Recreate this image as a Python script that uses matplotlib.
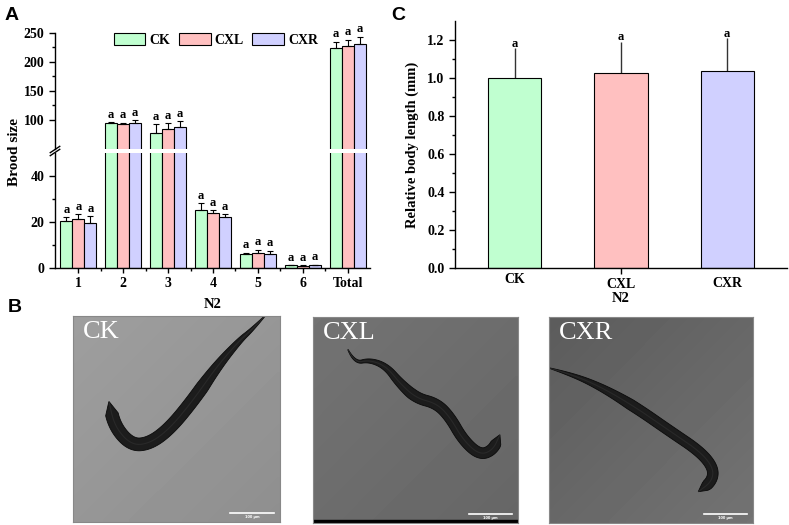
import numpy as np
import matplotlib
matplotlib.use("Agg")
import matplotlib.pyplot as plt
from matplotlib.patches import Patch
from matplotlib.ticker import FixedLocator

# ---------------- data ----------------
groups = ['1', '2', '3', '4', '5', '6', 'Total']
series = ['CK', 'CXL', 'CXR']
ck_mean = [20.3, 95.0, 77.5, 25.3, 6.3, 1.1, 223.5]
ck_err = [1.7, 0.8, 15.0, 3.0, 0.4, 0.2, 11.5]
cxl_mean = [21.2, 92.5, 85.0, 24.0, 6.6, 0.8, 228.0]
cxl_err = [2.3, 3.0, 9.3, 1.2, 1.3, 0.5, 10.5]
cxr_mean = [19.5, 95.0, 88.0, 22.3, 6.2, 1.1, 231.5]
cxr_err = [3.0, 4.7, 10.4, 1.0, 1.3, 0.3, 12.0]

c_labels = ['CK', 'CXL', 'CXR']
c_mean = [1.0, 1.026, 1.035]
c_err = [0.156, 0.165, 0.174]

colors = ['#c0ffd0', '#ffc0c0', '#d0d0ff']

# worm centre lines (image fraction, y from top), tail end first
worm_ck_x = [0.927, 0.863, 0.806, 0.694, 0.581, 0.468, 0.371, 0.282, 0.202, 0.174]
worm_ck_y = [0.0, 0.068, 0.117, 0.246, 0.408, 0.546, 0.619, 0.627, 0.538, 0.417]
worm_cxl_x = [0.171, 0.203, 0.276, 0.358, 0.423, 0.504, 0.602, 0.667, 0.732, 0.813, 0.878, 0.911]
worm_cxl_y = [0.159, 0.224, 0.208, 0.240, 0.321, 0.394, 0.419, 0.484, 0.597, 0.670, 0.646, 0.573]
worm_cxr_x = [0.002, 0.119, 0.267, 0.430, 0.594, 0.741, 0.807, 0.798, 0.733]
worm_cxr_y = [0.248, 0.281, 0.346, 0.442, 0.555, 0.653, 0.734, 0.799, 0.847]

plt.rcParams['font.family'] = ['Liberation Serif', 'DejaVu Serif']
plt.rcParams['font.weight'] = 'bold'
plt.rcParams['axes.linewidth'] = 1.0

fig = plt.figure(figsize=(7.89, 5.25), dpi=100)
W, H = 789.0, 525.0


def worm_shape(xs, ys, width):
    # smooth centre line through midpoints (quadratic bezier), then a tapered outline
    p = np.column_stack([xs, ys])
    t = np.linspace(0, 1, 20)[:, None]
    line = [p[0]]
    start = p[0]
    for i in range(1, len(p) - 1):
        end = (p[i] + p[i + 1]) / 2
        seg = (1 - t) ** 2 * start + 2 * (1 - t) * t * p[i] + t ** 2 * end
        line.extend(seg[1:])
        start = end
    line.append(p[-1])
    line = np.array(line)
    d = np.gradient(line, axis=0)
    d /= np.hypot(d[:, 0], d[:, 1])[:, None] + 1e-12
    nrm = np.column_stack([-d[:, 1], d[:, 0]])
    s = np.concatenate([[0], np.cumsum(np.hypot(*np.diff(line, axis=0).T))])
    s /= s[-1]
    taper = np.minimum(1, s / 0.4) ** 0.9 * np.minimum(1, (1 - s) / 0.05) ** 0.5
    w = width * (0.04 + 0.96 * taper) / 2
    outline = np.vstack([line + nrm * w[:, None], (line - nrm * w[:, None])[::-1]])
    return line, outline


# ---------------- panel A (broken axis) ----------------
left_a = 55 / W
width_a = 315 / W
ax_lo = fig.add_axes([left_a, 1 - 268 / H, width_a, 115 / H])
ax_hi = fig.add_axes([left_a, 1 - 149 / H, width_a, 116 / H])

x = np.arange(len(groups))
bw = 0.267
means = [ck_mean, cxl_mean, cxr_mean]
errs = [ck_err, cxl_err, cxr_err]
for ax in (ax_lo, ax_hi):
    for k in range(3):
        xs = x + (k - 1) * bw
        ax.bar(xs, means[k], bw, color=colors[k], edgecolor='black', linewidth=0.8, zorder=2)
        ax.errorbar(xs, means[k], yerr=[np.zeros(len(groups)), errs[k]], fmt='none',
                    ecolor='black', elinewidth=0.8, capsize=2.2, capthick=0.8, zorder=3)
    ax.set_xlim(-0.52, 6.5)
    for s in ('top', 'right'):
        ax.spines[s].set_visible(False)
    ax.tick_params(axis='y', direction='out', length=4, width=1, labelsize=10)
    ax.tick_params(axis='y', which='minor', direction='out', length=2, width=1)

ax_lo.set_ylim(0, 50)
ax_lo.yaxis.set_major_locator(FixedLocator([0, 20, 40]))
ax_lo.yaxis.set_minor_locator(FixedLocator([10, 30]))
ax_lo.set_xticks(x)
ax_lo.set_xticklabels(groups)
ax_lo.xaxis.set_minor_locator(FixedLocator(x[:-1] + 0.5))
ax_lo.tick_params(axis='x', direction='out', length=3.5, width=1, labelsize=10, pad=3)
ax_lo.tick_params(axis='x', which='minor', direction='out', length=2, width=1)
ax_lo.set_xlabel('N2', fontsize=10.5, fontweight='bold', labelpad=6)

ax_hi.set_ylim(50, 250)
ax_hi.yaxis.set_major_locator(FixedLocator([100, 150, 200, 250]))
ax_hi.yaxis.set_minor_locator(FixedLocator([125, 175, 225]))
ax_hi.spines['bottom'].set_visible(False)
ax_hi.set_xticks([])

# break marks on the left spine
kw = dict(transform=fig.transFigure, color='black', lw=1, clip_on=False)
for yb in (1 - 149.5 / H, 1 - 152.5 / H):
    fig.add_artist(plt.Line2D([left_a - 0.006, left_a + 0.006], [yb - 0.006, yb + 0.006], **kw))

# significance letters
for k in range(3):
    for i in range(len(groups)):
        top = means[k][i] + errs[k][i]
        ax = ax_hi if top > 50 else ax_lo
        ax.annotate('a', (x[i] + (k - 1) * bw, top), xytext=(0, 1), textcoords='offset points',
                    ha='center', va='bottom', fontsize=9, fontweight='bold')

fig.text(14 / W, 1 - 152 / H, 'Brood size', rotation=90, ha='center', va='center',
         fontsize=11, fontweight='bold')

handles = [Patch(facecolor=colors[k], edgecolor='black', linewidth=0.8, label=series[k]) for k in range(3)]
fig.legend(handles=handles, loc='center', bbox_to_anchor=(216 / W, 1 - 40 / H), ncol=3,
           frameon=False, handlelength=2.3, handleheight=0.9, handletextpad=0.3,
           columnspacing=0.6, prop={'family': 'Liberation Serif', 'weight': 'bold', 'size': 10})

# ---------------- panel C ----------------
ax_c = fig.add_axes([455 / W, 1 - 268 / H, 332 / W, 247 / H])
xc = np.arange(3)
ax_c.bar(xc, c_mean, 0.5, color=colors, edgecolor='black', linewidth=0.8, zorder=2)
ax_c.errorbar(xc, c_mean, yerr=[np.zeros(3), c_err], fmt='none', ecolor='#333333',
              elinewidth=1.0, capsize=0, zorder=1)
for i in range(3):
    ax_c.annotate('a', (xc[i], c_mean[i] + c_err[i]), xytext=(0, -1), textcoords='offset points',
                  ha='center', va='bottom', fontsize=9, fontweight='bold')
ax_c.set_xlim(-0.566, 2.566)
ax_c.set_ylim(0, 1.3)
ax_c.yaxis.set_major_locator(FixedLocator([0.0, 0.2, 0.4, 0.6, 0.8, 1.0, 1.2]))
ax_c.yaxis.set_minor_locator(FixedLocator([0.1, 0.3, 0.5, 0.7, 0.9, 1.1]))
ax_c.set_yticklabels(['%.1f' % v for v in [0.0, 0.2, 0.4, 0.6, 0.8, 1.0, 1.2]])
ax_c.tick_params(axis='y', direction='out', length=4, width=1, labelsize=10)
ax_c.tick_params(axis='y', which='minor', direction='out', length=2, width=1)
for s in ('top', 'right'):
    ax_c.spines[s].set_visible(False)
ax_c.set_xticks([1])
ax_c.set_xticklabels([c_labels[1]])
ax_c.tick_params(axis='x', direction='out', length=4, width=1, labelsize=10, pad=3)
ax_c.text(0, -0.045, c_labels[0], ha='center', va='center', fontsize=10, fontweight='bold',
          transform=ax_c.get_xaxis_transform())
ax_c.text(2, -0.062, c_labels[2], ha='center', va='center', fontsize=10, fontweight='bold',
          transform=ax_c.get_xaxis_transform())
ax_c.set_xlabel('N2', fontsize=10.5, fontweight='bold', labelpad=1)
ax_c.set_ylabel('Relative body length (mm)', fontsize=10.5, fontweight='bold', labelpad=6)

# ---------------- panel B (micrographs) ----------------
img_boxes = [(73, 316, 207, 206), (313, 317, 205, 206), (549, 317, 204, 206)]
bg_levels = [(0.62, 0.56), (0.45, 0.40), (0.36, 0.45)]
worms = [(worm_ck_x, worm_ck_y), (worm_cxl_x, worm_cxl_y), (worm_cxr_x, worm_cxr_y)]
worm_w = [0.062, 0.052, 0.052]
gx, gy = np.meshgrid(np.linspace(0, 1, 50), np.linspace(0, 1, 50))
for j, (bx, by, bwid, bhei) in enumerate(img_boxes):
    axi = fig.add_axes([bx / W, 1 - (by + bhei) / H, bwid / W, bhei / H])
    a0, a1 = bg_levels[j]
    grad = a0 + (a1 - a0) * (0.5 * gx + 0.5 * gy)
    axi.imshow(grad, cmap='gray', vmin=0, vmax=1, extent=[0, 1, 1, 0], aspect='auto',
               interpolation='bilinear')
    line, outline = worm_shape(worms[j][0], worms[j][1], worm_w[j])
    axi.fill(outline[:, 0], outline[:, 1], facecolor='#1c1c1c', edgecolor='#0a0a0a', lw=0.6)
    axi.plot(line[:, 0], line[:, 1], color='#2c2c2c', lw=0.8, alpha=0.8)
    axi.text(0.05, 0.975, series[j], transform=axi.transAxes, ha='left', va='top', color='white',
             fontsize=19, fontweight='normal', family='Liberation Serif')
    axi.plot([0.76, 0.97], [0.955, 0.955], color='white', lw=1.2)
    axi.text(0.865, 0.975, '100 μm', ha='center', va='center', color='white', fontsize=2.5,
             family='DejaVu Sans')
    axi.set_xlim(0, 1)
    axi.set_ylim(1, 0)
    axi.set_xticks([])
    axi.set_yticks([])
    for s in axi.spines.values():
        s.set_color('#888888')
        s.set_linewidth(0.8)
    if j == 1:
        axi.axhspan(0.985, 1.0, color='black')

# panel letters
for lab, px, py in [('A', 12, 15), ('C', 398, 15), ('B', 15, 308)]:
    fig.text(px / W, 1 - py / H, lab, ha='center', va='center', fontsize=14, fontweight='bold',
             family='Liberation Sans')

fig.savefig('out.png', dpi=100)
